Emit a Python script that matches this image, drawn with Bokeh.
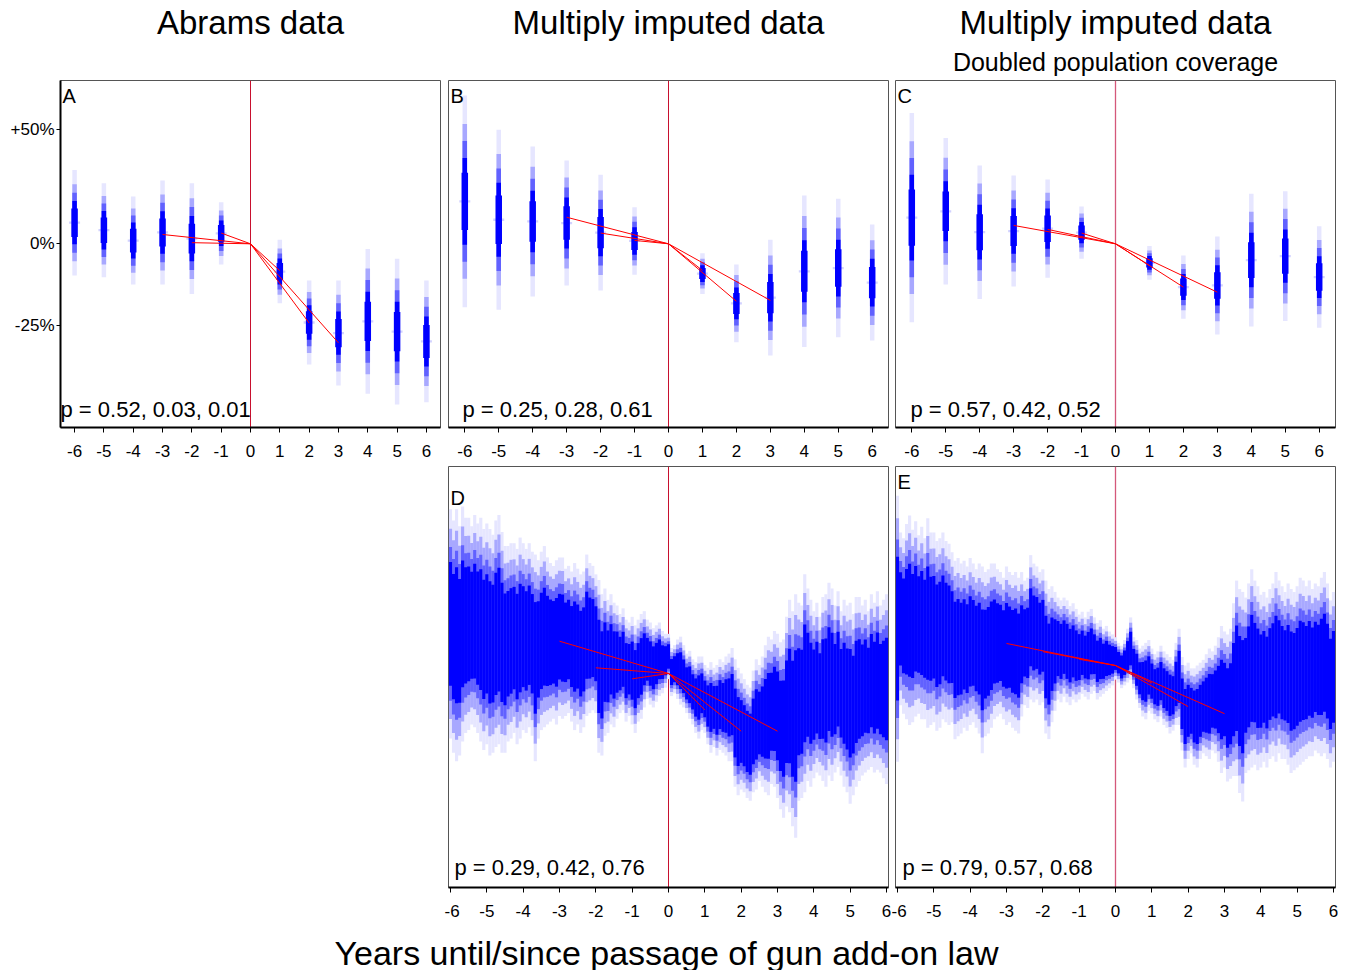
import numpy as np
from bokeh.plotting import figure
from bokeh.layouts import column, row
from bokeh.models import Range1d, FixedTicker, Span, Spacer, CustomJSTickFormatter
from bokeh.core.properties import value
from bokeh.embed import file_html
from bokeh.resources import INLINE

FONT = "Liberation Sans"

# ---------------- data: change relative to year 0, in log points (100 * ln ratio) ----------------
years_top = [-6, -5, -4, -3, -2, -1, 1, 2, 3, 4, 5, 6]

a_hi = [26.1, 21.4, 16.7, 22.4, 21.4, 14.7, 1.4, -13.0, -13.0, -1.8, -5.3, -13.0]
a_lo = [-11.2, -11.8, -14.4, -14.4, -17.7, -7.3, -21.0, -42.6, -50.1, -53.0, -56.8, -56.0]

b_hi = [52.4, 40.3, 34.4, 29.4, 24.4, 12.9, -3.3, -7.3, 1.4, 17.1, 15.9, 6.8]
b_lo = [-22.4, -23.3, -18.6, -14.7, -16.5, -10.9, -17.7, -34.8, -39.5, -36.5, -33.0, -34.2]

c_hi = [46.2, 37.4, 27.7, 24.1, 22.7, 13.2, -0.8, -4.1, 2.6, 17.7, 18.6, 6.2]
c_lo = [-27.7, -14.4, -19.5, -15.1, -12.0, -5.3, -12.7, -26.5, -32.0, -29.2, -27.3, -29.7]

trend_years = [1, 2, 3]
a_pre = [3.8, 0.4, 3.3]
a_post = [-9.5, -28.0, -35.0]
b_pre = [1.2, 3.8, 9.4]
b_post = [-9.4, -20.3, -20.0]
c_pre = [3.8, 5.1, 6.5]
c_post = [-7.7, -15.3, -17.1]
d_pre = [-1.9, 2.0, 11.4]
d_post = [-12.9, -20.4, -20.4]
e_pre = [2.2, 4.9, 7.8]
e_post = [-6.2, -14.5, -17.0]

months = list(range(-72, 73))  # months until/since passage

d_hi = [58, 54, 58, 52, 59, 55, 55, 52, 56, 53,
        55, 51, 53, 51, 49, 54, 56, 50, 45, 45,
        46, 46, 44, 48, 46, 44, 46, 43, 42, 40,
        43, 45, 41, 39, 38, 40, 41, 41, 37, 38,
        36, 39, 37, 35, 36, 42, 39, 38, 35, 33,
        28, 30, 26, 28, 25, 24, 21, 23, 19, 18,
        20, 17, 19, 21, 22, 19, 18, 16, 17, 18,
        15, 14, 14, 9, 10, 12, 13, 10, 7, 8,
        5, 4, 6, 6, 3, 2, 4, 2, 3, 5,
        4, 6, 7, 9, 5, 2, 0, -2, -4, -5,
        1, 5, 3, 6, 10, 13, 12, 15, 14, 11,
        12, 20, 26, 22, 28, 25, 24, 35, 30, 26,
        22, 25, 20, 27, 28, 32, 30, 24, 29, 22,
        26, 24, 25, 21, 27, 27, 24, 26, 22, 28,
        25, 29, 24, 26, 28]
d_lo = [-23, -28, -31, -29, -24, -21, -20, -18, -19, -21,
        -24, -27, -25, -29, -28, -26, -25, -28, -28, -24,
        -23, -21, -25, -23, -20, -21, -19, -22, -31, -23,
        -20, -19, -18, -17, -16, -18, -15, -16, -15, -14,
        -17, -20, -18, -21, -19, -15, -14, -13, -14, -28,
        -29, -22, -21, -18, -19, -16, -14, -13, -17, -15,
        -18, -21, -17, -16, -12, -9, -11, -12, -10, -8,
        -7, -5, -2, -8, -7, -9, -11, -12, -14, -16,
        -18, -21, -23, -20, -21, -25, -28, -26, -29, -27,
        -28, -29, -31, -31, -40, -43, -41, -42, -44, -45,
        -42, -41, -38, -40, -42, -43, -39, -40, -44, -48,
        -51, -47, -49, -54, -58, -45, -44, -42, -38, -40,
        -37, -35, -36, -38, -40, -36, -38, -35, -33, -36,
        -40, -42, -46, -43, -40, -38, -36, -35, -34, -33,
        -35, -34, -35, -37, -39]

e_hi = [60, 47, 45, 50, 53, 48, 51, 46, 49, 45,
        52, 47, 47, 44, 45, 47, 44, 43, 40, 37,
        38, 36, 37, 35, 38, 36, 34, 36, 35, 33,
        34, 36, 36, 34, 33, 31, 35, 33, 32, 33,
        31, 33, 30, 31, 39, 36, 35, 33, 34, 30,
        27, 28, 26, 24, 23, 24, 23, 21, 22, 20,
        18, 19, 17, 19, 20, 17, 15, 16, 13, 14,
        12, 11, 10, 8, 7, 9, 13, 17, 10, 9,
        6, 7, 8, 9, 6, 4, 5, 7, 5, 4,
        3, 2, 8, 13, 3, 0, 1, -1, -1, 0,
        1, 2, 4, 6, 5, 7, 10, 14, 12, 11,
        13, 22, 30, 27, 26, 24, 29, 34, 30, 28,
        25, 26, 24, 27, 29, 33, 30, 28, 26, 29,
        27, 26, 28, 31, 30, 28, 30, 27, 29, 28,
        31, 33, 29, 23, 26]
e_lo = [-34, -14, -17, -19, -21, -20, -18, -17, -19, -19,
        -22, -21, -20, -23, -22, -19, -20, -21, -20, -26,
        -25, -24, -22, -23, -21, -20, -22, -24, -31, -25,
        -24, -22, -19, -18, -17, -19, -21, -20, -22, -23,
        -24, -18, -14, -15, -12, -13, -12, -14, -13, -24,
        -26, -20, -16, -12, -13, -11, -13, -14, -12, -13,
        -12, -10, -11, -12, -10, -9, -12, -11, -10, -9,
        -8, -7, -5, -6, -8, -7, -6, -5, -8, -12,
        -15, -18, -19, -16, -17, -19, -20, -18, -21, -22,
        -24, -23, -21, -21, -30, -36, -33, -31, -35, -36,
        -33, -31, -32, -33, -30, -31, -34, -38, -36, -41,
        -40, -39, -39, -45, -48, -38, -37, -36, -35, -37,
        -36, -34, -36, -33, -32, -34, -31, -33, -33, -35,
        -38, -37, -36, -35, -34, -33, -32, -32, -30, -31,
        -32, -31, -33, -36, -34]

x_ticks = [-6, -5, -4, -3, -2, -1, 0, 1, 2, 3, 4, 5, 6]
x_tick_labels = ["-6", "-5", "-4", "-3", "-2", "-1", "0", "1", "2", "3", "4", "5", "6"]
y_ticks_pct = [50, 0, -25]
col_titles = ["Abrams data", "Multiply imputed data", "Multiply imputed data"]
subtitle = "Doubled population coverage"
letters = ["A", "B", "C", "D", "E"]
p_labels = ["p = 0.52, 0.03, 0.01", "p = 0.25, 0.28, 0.61", "p = 0.57, 0.42, 0.52",
            "p = 0.29, 0.42, 0.76", "p = 0.79, 0.57, 0.68"]
x_title = "Years until/since passage of gun add-on law"

# ---------------- styling ----------------
BAND_COLORS = ["#e6e6ff", "#a8a8ff", "#6161ff", "#0000ff"]
TOP_FRACS = [1.0, 0.73, 0.57, 0.41]
BOT_FRACS = [1.0, 0.83, 0.67, 0.54]

TOP_X = (-6.48, 6.48)
TOP_Y = (-64.9, 57.7)
BOT_X = (-6.055, 6.055)
D_Y = (-75.6, 73.1)
E_Y = (-78.4, 70.3)


def style_xaxis(p):
    ax = p.xaxis[0]
    ax.ticker = FixedTicker(ticks=x_ticks)
    ax.major_label_overrides = dict(zip(x_ticks, x_tick_labels))
    ax.axis_line_color = "black"
    ax.axis_line_width = 2
    ax.major_tick_line_color = "black"
    ax.major_tick_out = 5
    ax.major_tick_in = 0
    ax.minor_tick_out = 0
    ax.minor_tick_in = 0
    ax.major_label_standoff = 12
    ax.major_label_text_font = FONT
    ax.major_label_text_font_size = "17px"
    ax.major_label_text_color = "black"


def panel(w, h, xr, yr, bl, br, bt, bb, yaxis=False):
    p = figure(width=w, height=h, x_range=Range1d(*xr), y_range=Range1d(*yr),
               output_backend="svg", toolbar_location=None, title=None,
               x_axis_location="below", y_axis_location=("left" if yaxis else None))
    p.min_border_left = bl
    p.min_border_right = br
    p.min_border_top = bt
    p.min_border_bottom = bb
    p.xgrid.visible = False
    p.ygrid.visible = False
    p.outline_line_color = "#555555"
    p.outline_line_width = 1
    p.background_fill_color = "white"
    p.border_fill_color = "white"
    style_xaxis(p)
    if yaxis:
        ay = p.yaxis[0]
        ay.ticker = FixedTicker(ticks=list(100 * np.log1p(np.array(y_ticks_pct) / 100.0)))
        ay.formatter = CustomJSTickFormatter(code="""
            const v = Math.round((Math.exp(tick / 100) - 1) * 100);
            return (v > 0 ? "+" : "") + v + "%";
        """)
        ay.axis_line_color = "black"
        ay.axis_line_width = 2
        ay.major_tick_line_color = "black"
        ay.major_tick_out = 4
        ay.major_tick_in = 0
        ay.minor_tick_out = 0
        ay.minor_tick_in = 0
        ay.major_label_standoff = 2
        ay.major_label_text_font = FONT
        ay.major_label_text_font_size = "17px"
        ay.major_label_text_color = "black"
    return p


def zero_line(p, color, width):
    p.add_layout(Span(location=0, dimension="height", line_color=color,
                      line_width=width, level="underlay"))


def top_bars(p, hi, lo, ppu):
    hi = np.array(hi, dtype=float)
    lo = np.array(lo, dtype=float)
    mid = (hi + lo) / 2
    half = (hi - lo) / 2
    p.vbar(x=years_top, width=11 / ppu, top=mid + 0.4, bottom=mid - 0.4,
           fill_color="#d2d2ff", line_color=None)
    for f, c in zip(TOP_FRACS, BAND_COLORS):
        p.vbar(x=years_top, width=4.5 / ppu, top=mid + f * half, bottom=mid - f * half,
               fill_color=c, line_color=None)
    p.vbar(x=years_top, width=6.5 / ppu, top=mid + 0.27 * half, bottom=mid - 0.27 * half,
           fill_color="#0000ff", line_color=None)


def dense_bars(p, hi, lo):
    hi = np.array(hi, dtype=float)
    lo = np.array(lo, dtype=float)
    mid = (hi + lo) / 2
    half = (hi - lo) / 2
    xs = np.array(months) / 12.0
    for f, c in zip(BOT_FRACS, BAND_COLORS):
        p.vbar(x=xs, width=1.0 / 12 * 1.04, top=mid + f * half, bottom=mid - f * half,
               fill_color=c, line_color=None)


def trends(p, pre, post):
    p.segment(x0=[-k for k in trend_years], y0=pre, x1=[0, 0, 0], y1=[0, 0, 0],
              line_color="#ff0000", line_width=1)
    p.segment(x0=[0, 0, 0], y0=[0, 0, 0], x1=trend_years, y1=post,
              line_color="#ff0000", line_width=1)


def labels(p, xr, yr, letter, ptxt, ly_off, px_off, py_off):
    p.text(x=[xr[0]], y=[yr[1]], text=[letter], text_align="left", text_baseline="top",
           x_offset=2, y_offset=ly_off, text_font=value(FONT), text_font_size="20px",
           text_color="black")
    p.text(x=[xr[0]], y=[yr[0]], text=[ptxt], text_align="left", text_baseline="alphabetic",
           x_offset=px_off, y_offset=py_off, text_font=value(FONT), text_font_size="22px",
           text_color="black")


# ---------------- title strip (page x = strip x) ----------------
strip = figure(width=1338, height=78, x_range=Range1d(0, 1338), y_range=Range1d(0, 78),
               output_backend="svg", toolbar_location=None, title=None,
               x_axis_location=None, y_axis_location=None, min_border=0)
strip.outline_line_color = None
strip.xgrid.visible = False
strip.ygrid.visible = False
strip.text(x=[250, 668, 1115], y=[56, 56, 56], text=col_titles, text_align="center",
           text_baseline="middle", text_font=value(FONT), text_font_size="33px",
           text_color="black")
strip.text(x=[1115], y=[17], text=[subtitle], text_align="center", text_baseline="middle",
           text_font=value(FONT), text_font_size="25px", text_color="black")

# ---------------- top row ----------------
fA = panel(444, 385, TOP_X, TOP_Y, 60, 4, 2, 36, yaxis=True)
zero_line(fA, "#c8102e", 1)
top_bars(fA, a_hi, a_lo, 380 / (TOP_X[1] - TOP_X[0]))
trends(fA, a_pre, a_post)
labels(fA, TOP_X, TOP_Y, letters[0], p_labels[0], 4, 0, -18)

fB = panel(447, 385, TOP_X, TOP_Y, 4, 3, 2, 36)
zero_line(fB, "#c8102e", 1)
top_bars(fB, b_hi, b_lo, 440 / (TOP_X[1] - TOP_X[0]))
trends(fB, b_pre, b_post)
labels(fB, TOP_X, TOP_Y, letters[1], p_labels[1], 4, 14, -18)

fC = panel(447, 385, TOP_X, TOP_Y, 4, 3, 2, 36)
zero_line(fC, "#d4587a", 1.3)
top_bars(fC, c_hi, c_lo, 440 / (TOP_X[1] - TOP_X[0]))
trends(fC, c_pre, c_post)
labels(fC, TOP_X, TOP_Y, letters[2], p_labels[2], 4, 15, -18)

# ---------------- bottom row ----------------
fD = panel(447, 460, BOT_X, D_Y, 4, 3, 3, 36)
zero_line(fD, "#c8102e", 1)
dense_bars(fD, d_hi, d_lo)
trends(fD, d_pre, d_post)
labels(fD, BOT_X, D_Y, letters[3], p_labels[3], 20, 6, -20)

fE = panel(447, 460, BOT_X, E_Y, 4, 3, 3, 36)
zero_line(fE, "#d4587a", 1.3)
dense_bars(fE, e_hi, e_lo)
trends(fE, e_pre, e_post)
labels(fE, BOT_X, E_Y, letters[4], p_labels[4], 4, 7, -20)

# ---------------- x title strip ----------------
xstrip = figure(width=1338, height=47, x_range=Range1d(0, 1338), y_range=Range1d(0, 47),
                output_backend="svg", toolbar_location=None, title=None,
                x_axis_location=None, y_axis_location=None, min_border=0)
xstrip.outline_line_color = None
xstrip.xgrid.visible = False
xstrip.ygrid.visible = False
xstrip.text(x=[666], y=[18], text=[x_title], text_align="center", text_baseline="middle",
            text_font=value(FONT), text_font_size="34px", text_color="black")

layout = column(strip,
                row(fA, fB, fC),
                row(Spacer(width=444, height=460), fD, fE),
                xstrip)

open("out.html", "w").write(file_html(layout, INLINE))
